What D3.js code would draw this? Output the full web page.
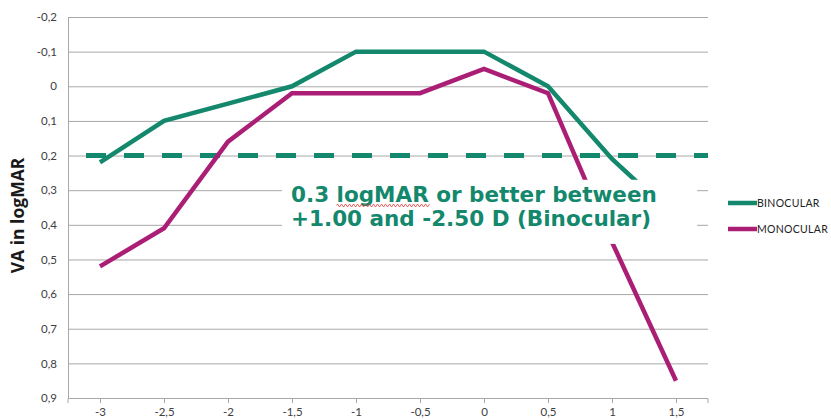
<!DOCTYPE html>
<html><head><meta charset="utf-8">
<script src="https://cdn.jsdelivr.net/npm/d3@7"></script>
<style>
html,body{margin:0;padding:0;background:#fff;}
svg{display:block;}
</style></head>
<body>
<svg id="chart" width="831" height="419"></svg>
<script>
// ---- data ----
const defocus = ["-3","-2,5","-2","-1,5","-1","-0,5","0","0,5","1","1,5"];
const binocular = [0.22, 0.10, 0.05, 0.00, -0.10, -0.10, -0.10, 0.00, 0.21, 0.38];
const monocular = [0.52, 0.41, 0.16, 0.02, 0.02, 0.02, -0.05, 0.02, 0.45, 0.85];
const yTicks = [-0.2, -0.1, 0, 0.1, 0.2, 0.3, 0.4, 0.5, 0.6, 0.7, 0.8, 0.9];
const threshold = 0.2;
const seriesNames = ["BINOCULAR", "MONOCULAR"];
const annotationLines = ["0.3 logMAR or better between", "+1.00 and -2.50 D (Binocular)"];
const yTitle = "VA in logMAR";

// ---- layout ----
const GREEN = "#13886c", MAGENTA = "#aa1f75", GRID = "#a8a8a8";
const svg = d3.select("#chart");
const pL = 68, pR = 708, pT = 17, pB = 398;

const x = d3.scalePoint().domain(defocus).range([pL, pR]).padding(0.5);
const y = d3.scaleLinear().domain([-0.2, 0.9]).range([pT, pB]);
const loc = d3.formatLocale({decimal: ",", thousands: ".", grouping: [3], currency: ["", ""], minus: "-"});
const fmt = loc.format("~g");

// gridlines
svg.append("g").selectAll("line").data(yTicks.slice(0, -1)).join("line")
  .attr("x1", pL).attr("x2", pR)
  .attr("y1", d => y(d) + 0.5).attr("y2", d => y(d) + 0.5)
  .attr("stroke", GRID).attr("stroke-width", 1);

// y axis (labels only + axis line)
const yAxis = svg.append("g").attr("transform", `translate(${pL},0)`)
  .call(d3.axisLeft(y).tickValues(yTicks).tickFormat(fmt).tickSize(0).tickPadding(11));
yAxis.select(".domain").attr("stroke", GRID);
yAxis.selectAll("text").attr("font-family", "Lato, 'Open Sans', sans-serif").attr("font-size", 11.5).attr("fill", "#404040");

// x axis
const xAxis = svg.append("g").attr("transform", `translate(0,${pB})`)
  .call(d3.axisBottom(x).tickSize(5).tickPadding(5).tickSizeOuter(5));
xAxis.select(".domain").attr("stroke", GRID).attr("d", `M${pL},5V0.5H${pR}V5`);
xAxis.selectAll("line").attr("stroke", GRID);
xAxis.selectAll("text").attr("font-family", "Lato, 'Open Sans', sans-serif").attr("font-size", 11.5).attr("fill", "#404040");

// y title
svg.append("text")
  .attr("transform", `translate(24,${(pT + pB) / 2 + 8}) rotate(-90)`)
  .attr("text-anchor", "middle")
  .attr("font-family", "'Open Sans', sans-serif").attr("font-weight", "bold")
  .attr("font-size", 17.5).attr("fill", "#1a1a1a")
  .text(yTitle);

// threshold dashed line
svg.append("line")
  .attr("x1", pL + 18).attr("x2", pR)
  .attr("y1", y(threshold)).attr("y2", y(threshold))
  .attr("stroke", GREEN).attr("stroke-width", 5)
  .attr("stroke-dasharray", "20,18");

// series
const line = d3.line().x((d, i) => x(defocus[i])).y(d => y(d));
[[binocular, GREEN], [monocular, MAGENTA]].forEach(([vals, col]) => {
  svg.append("path").datum(vals).attr("d", line)
    .attr("fill", "none").attr("stroke", col).attr("stroke-width", 4.5)
    .attr("stroke-linejoin", "miter");
});

// annotation box
const box = svg.append("g");
box.append("rect").attr("x", 282).attr("y", y(0.27)).attr("width", 415).attr("height", y(0.455) - y(0.27)).attr("fill", "#fff");
const ann = box.append("text")
  .attr("font-family", "'DejaVu Sans', Verdana, sans-serif").attr("font-weight", "bold")
  .attr("font-size", 21.5).attr("fill", GREEN);
annotationLines.forEach((t, i) => {
  ann.append("tspan").attr("x", 291).attr("y", 202 + i * 23.5).text(t);
});
// spell-check squiggle under "logMAR"
const firstLine = ann.node().childNodes[0];
const s0 = firstLine.getSubStringLength(0, 4), s1 = firstLine.getSubStringLength(4, 6);
const sx = 291 + s0, sy = 205.5;
let zz = `M${sx},${sy}`;
for (let k = 0; k * 2 < s1; k++) zz += `L${sx + k * 2 + 1},${sy + (k % 2 ? 1.5 : -1.5)}`;
box.append("path").attr("d", zz).attr("fill", "none").attr("stroke", "#e0403a").attr("stroke-width", 0.8);

// legend
const lg = svg.append("g");
seriesNames.forEach((n, i) => {
  const col = i === 0 ? GREEN : MAGENTA;
  const ly = 203 + i * 26;
  lg.append("line").attr("x1", 728).attr("x2", 757).attr("y1", ly).attr("y2", ly)
    .attr("stroke", col).attr("stroke-width", 4.5);
  lg.append("text").attr("x", 757).attr("y", ly + 3.8)
    .attr("font-family", "Lato, 'Open Sans', sans-serif").attr("font-size", 10.5).attr("fill", "#222")
    .attr("letter-spacing", 0.3)
    .text(n);
});
</script>
</body></html>
